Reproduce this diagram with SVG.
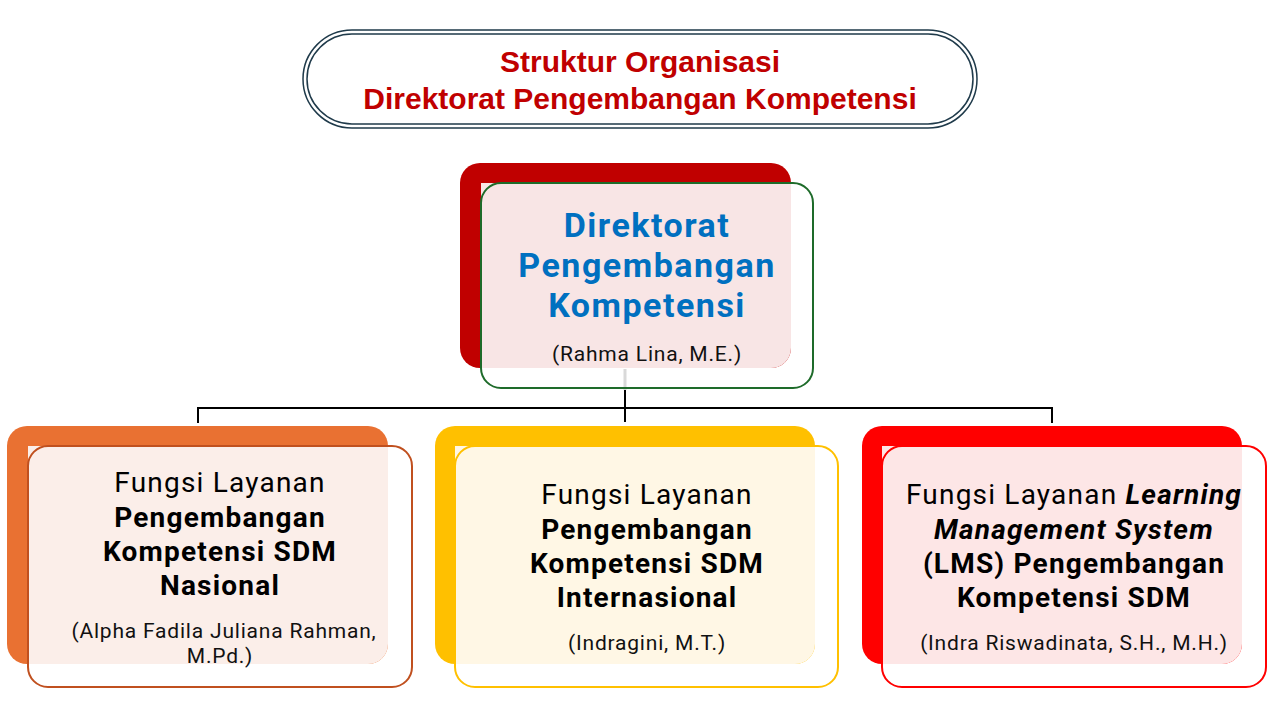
<svg xmlns="http://www.w3.org/2000/svg" width="1280" height="720" viewBox="0 0 1280 720">
<style>
.t{font-family:Roboto,"Liberation Sans",sans-serif;text-anchor:middle}
.title{font-family:"Liberation Sans",Arial,sans-serif;font-weight:bold;font-size:30px;fill:#C00000;text-anchor:middle}
.n{font-size:28px;fill:#000;letter-spacing:1.2px}
.b{font-weight:bold}
.s{font-size:21px;fill:#111;letter-spacing:0.8px}
.h{font-size:34px;fill:#0070C0;font-weight:bold;letter-spacing:1.5px}
</style>
<rect width="1280" height="720" fill="#fff"/>
<g id="title">
<rect x="303" y="30" width="674" height="98" rx="49" fill="#fff" stroke="#1F3A4A" stroke-width="1.5"/>
<rect x="307" y="34" width="666" height="90" rx="45" fill="none" stroke="#1F3A4A" stroke-width="1.5"/>
<text class="title" x="640" y="72">Struktur Organisasi</text>
<text class="title" x="640" y="109">Direktorat Pengembangan Kompetensi</text>
</g>
<g id="connectors" fill="none" stroke-width="2">
<line x1="625" y1="369" x2="625" y2="390" stroke="#D9D9D9" stroke-width="3"/>
<line x1="625" y1="390" x2="625" y2="422" stroke="#000"/>
<polyline points="198,423 198,408 1052,408 1052,423" stroke="#000"/>
</g>
<g id="direktorat">
<rect x="460" y="163" width="331" height="205" rx="20" fill="#C00000"/>
<path d="M481,183 H791 V348 A20,20 0 0 1 771,368 H481 Z" fill="#F8E5E5"/>
<rect x="481" y="183" width="332" height="205" rx="20" fill="none" stroke="#1E6B2A" stroke-width="2"/>
<text class="t h" x="647" y="237">Direktorat</text>
<text class="t h" x="647" y="277">Pengembangan</text>
<text class="t h" x="647" y="317">Kompetensi</text>
<text class="t s" x="647" y="361">(Rahma Lina, M.E.)</text>
</g>
<g id="nasional">
<rect x="7" y="426" width="381" height="238" rx="20" fill="#E97132"/>
<path d="M28,446 H388 V644 A20,20 0 0 1 368,664 H28 Z" fill="#FBEEE9"/>
<rect x="28" y="446" width="384" height="241" rx="20" fill="none" stroke="#C0501F" stroke-width="2"/>
<text class="t n" x="220" y="492">Fungsi Layanan</text>
<text class="t n b" x="220" y="527">Pengembangan</text>
<text class="t n b" x="220" y="561">Kompetensi SDM</text>
<text class="t n b" x="220" y="595">Nasional</text>
<text class="t s" x="224" y="638">(Alpha Fadila Juliana Rahman,</text>
<text class="t s" x="220" y="663">M.Pd.)</text>
</g>
<g id="internasional">
<rect x="435" y="426" width="380" height="238" rx="20" fill="#FFC000"/>
<path d="M455,446 H815 V644 A20,20 0 0 1 795,664 H455 Z" fill="#FFF7E5"/>
<rect x="455" y="446" width="383" height="241" rx="20" fill="none" stroke="#FFC000" stroke-width="2"/>
<text class="t n" x="647" y="504">Fungsi Layanan</text>
<text class="t n b" x="647" y="539">Pengembangan</text>
<text class="t n b" x="647" y="573">Kompetensi SDM</text>
<text class="t n b" x="647" y="607">Internasional</text>
<text class="t s" x="647" y="650">(Indragini, M.T.)</text>
</g>
<g id="lms">
<rect x="862" y="426" width="380" height="238" rx="20" fill="#FF0000"/>
<path d="M882,446 H1242 V644 A20,20 0 0 1 1222,664 H882 Z" fill="#FDE6E6"/>
<rect x="882" y="446" width="384" height="241" rx="20" fill="none" stroke="#FF0000" stroke-width="2"/>
<text class="t n" x="1074" y="504">Fungsi Layanan <tspan class="b" font-style="italic">Learning</tspan></text>
<text class="t n b" x="1074" y="539" font-style="italic">Management System</text>
<text class="t n b" x="1074" y="573">(LMS) Pengembangan</text>
<text class="t n b" x="1074" y="607">Kompetensi SDM</text>
<text class="t s" x="1074" y="650">(Indra Riswadinata, S.H., M.H.)</text>
</g>
</svg>
